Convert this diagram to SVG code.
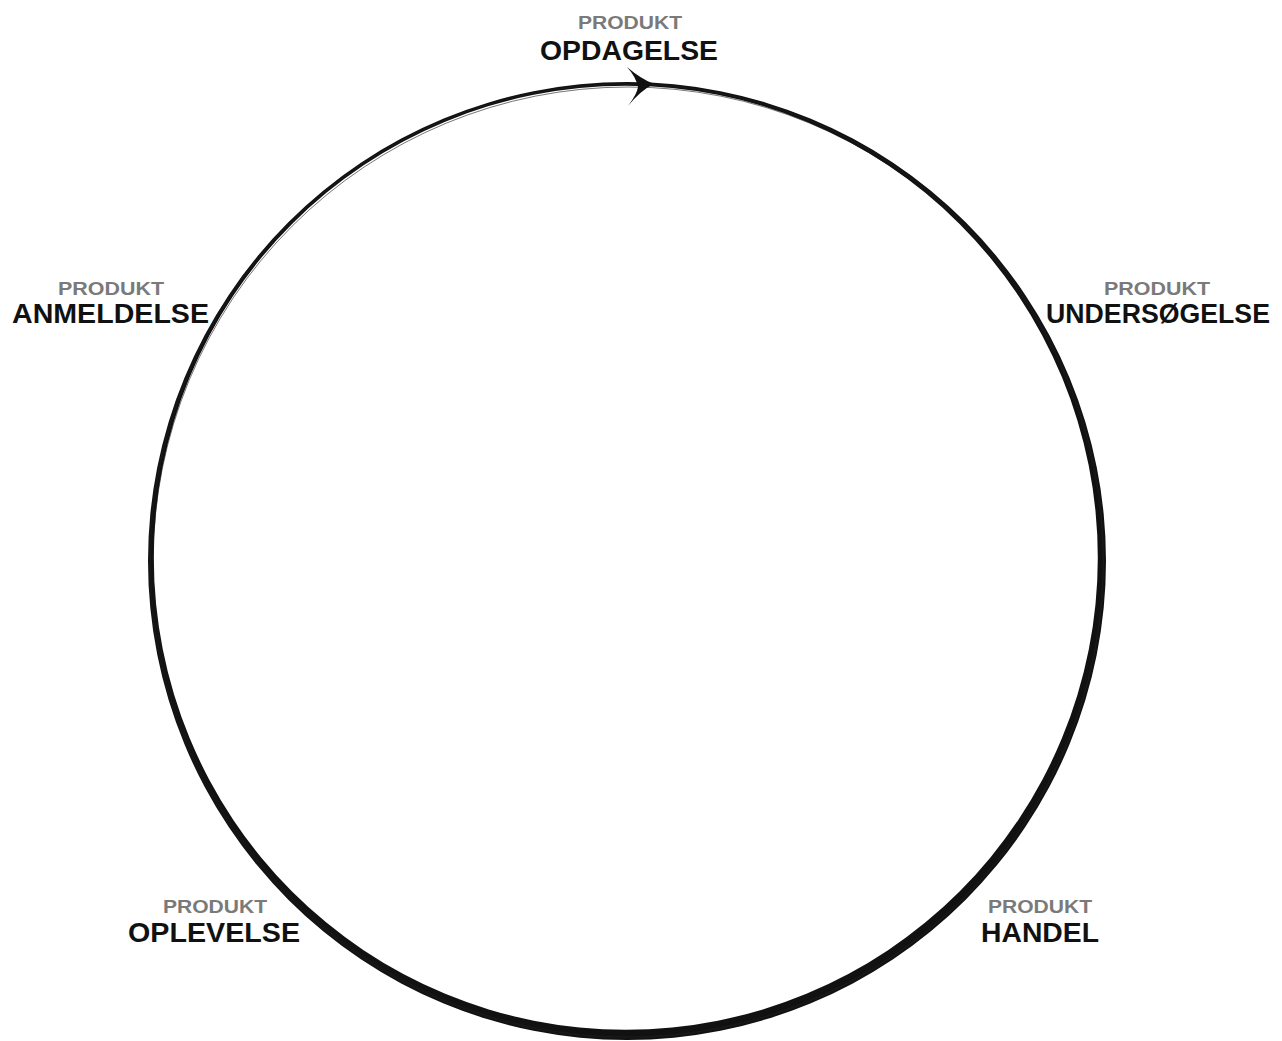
<svg xmlns="http://www.w3.org/2000/svg" width="1282" height="1041" viewBox="0 0 1282 1041">
<style>
.sub{font-family:"Liberation Sans",Arial,sans-serif;font-weight:bold;font-size:19px;fill:#7a7a7a}
.main{font-family:"Liberation Sans",Arial,sans-serif;font-weight:bold;font-size:27px;fill:#111}
.sk{fill:none;stroke:#1a1a1a;stroke-width:1;opacity:0.6}
</style>
<rect width="1282" height="1041" fill="#fff"/>
<g id="connectors">
<path fill="#111" fill-rule="evenodd" d="M 1106,561 A 479 479 0 1 0 148,561 A 479 479 0 1 0 1106,561 Z M 1097.8,557.7 A 472 472 0 1 0 153.8,557.7 A 472 472 0 1 0 1097.8,557.7 Z"/>
<circle class="sk" cx="626.5" cy="561" r="477"/>
<circle class="sk" cx="628" cy="562" r="475"/>
<circle class="sk" cx="627" cy="560.5" r="476.5"/>
<path fill="#111" d="M 627,67 Q 641,79 654,84 Q 641,90 628,106 Q 637,94 638,87 Q 636,77 627,67 Z"/>
</g>
<g id="node-opdagelse">
<text class="sub" x="630" y="29" text-anchor="middle" textLength="104" lengthAdjust="spacingAndGlyphs">PRODUKT</text>
<text class="main" x="629" y="60" text-anchor="middle" textLength="178" lengthAdjust="spacingAndGlyphs">OPDAGELSE</text>
</g>
<g id="node-undersogelse">
<text class="sub" x="1157" y="295" text-anchor="middle" textLength="106" lengthAdjust="spacingAndGlyphs">PRODUKT</text>
<text class="main" x="1158" y="323" text-anchor="middle" textLength="224" lengthAdjust="spacingAndGlyphs">UNDERSØGELSE</text>
</g>
<g id="node-handel">
<text class="sub" x="1040" y="913" text-anchor="middle" textLength="104" lengthAdjust="spacingAndGlyphs">PRODUKT</text>
<text class="main" x="1040" y="942" text-anchor="middle" textLength="118" lengthAdjust="spacingAndGlyphs">HANDEL</text>
</g>
<g id="node-oplevelse">
<text class="sub" x="215" y="913" text-anchor="middle" textLength="104" lengthAdjust="spacingAndGlyphs">PRODUKT</text>
<text class="main" x="214" y="942" text-anchor="middle" textLength="172" lengthAdjust="spacingAndGlyphs">OPLEVELSE</text>
</g>
<g id="node-anmeldelse">
<text class="sub" x="111" y="295" text-anchor="middle" textLength="106" lengthAdjust="spacingAndGlyphs">PRODUKT</text>
<text class="main" x="110.5" y="323" text-anchor="middle" textLength="197" lengthAdjust="spacingAndGlyphs">ANMELDELSE</text>
</g>
</svg>
